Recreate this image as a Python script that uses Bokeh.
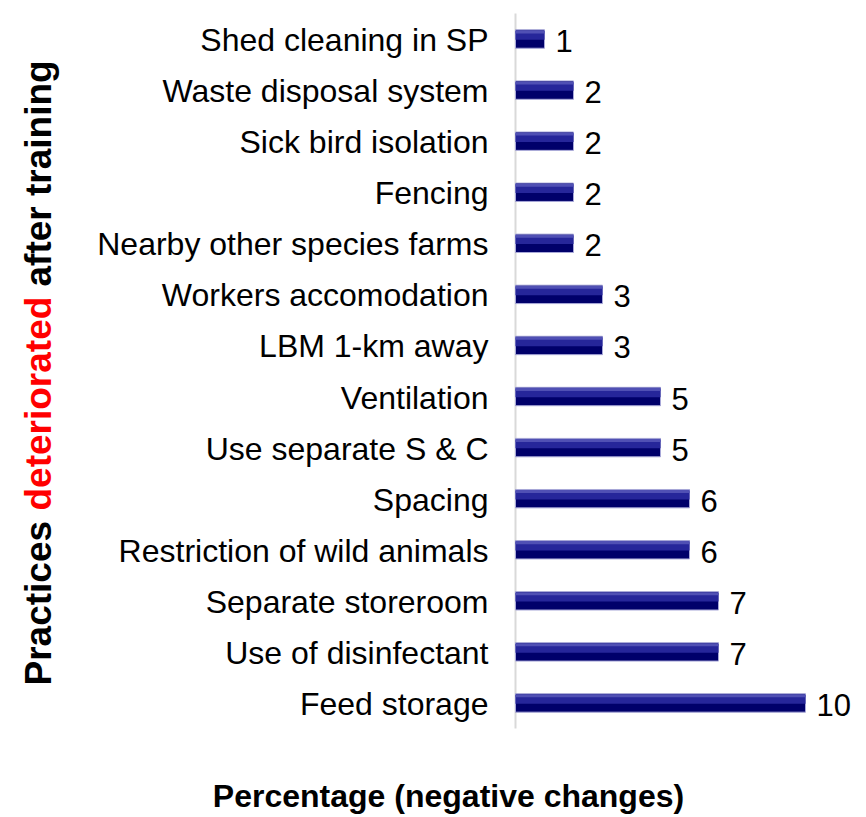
import math
from bokeh.plotting import figure
from bokeh.models import Range1d, Label, ColumnDataSource
from bokeh.core.properties import value
from bokeh.embed import file_html
from bokeh.resources import INLINE

practices = ["Shed cleaning in SP", "Waste disposal system", "Sick bird isolation",
             "Fencing", "Nearby other species farms", "Workers accomodation",
             "LBM 1-km away", "Ventilation", "Use separate S & C", "Spacing",
             "Restriction of wild animals", "Separate storeroom",
             "Use of disinfectant", "Feed storage"]
percent = [1, 2, 2, 2, 2, 3, 3, 5, 5, 6, 6, 7, 7, 10]
value_labels = [str(v) for v in percent]

# ---- layout constants (page pixels) ----
W, H = 858, 817
X0 = 515            # pixel of value 0 (axis line)
PX_PER_UNIT = 29.0  # horizontal scale
TOP, BOTTOM = 13, 728  # extent of category band
FONT = "Liberation Sans"

n = len(practices)
slot = (BOTTOM - TOP) / n
ypos = [n - 1 - i for i in range(n)]   # top category highest
y_top = (n - 1) + (TOP + slot / 2) / slot
y_bot = (n - 1) - (H - (TOP + slot / 2)) / slot

p = figure(width=W, height=H, output_backend="svg", toolbar_location=None,
           x_range=Range1d(-X0 / PX_PER_UNIT, (W - X0) / PX_PER_UNIT),
           y_range=Range1d(y_bot, y_top),
           min_border=0, min_border_left=0, min_border_right=0,
           min_border_top=0, min_border_bottom=0)
p.outline_line_color = None
p.grid.visible = False
p.axis.visible = False
p.background_fill_color = "white"
p.border_fill_color = "white"

src = ColumnDataSource(dict(y=ypos, val=percent, lab=value_labels, cat=practices))

# axis line
p.segment(x0=[0], y0=[-0.5], x1=[0], y1=[n - 0.5], line_color="#d9d9d9", line_width=2)

# bars with bevel-like shading
p.hbar(y="y", right="val", left=0, height=0.36, source=src,
       fill_color="#00006a", line_color="#a8a8d8", line_width=1)
p.hbar(y=[v + 0.07 for v in ypos], right=percent, left=0, height=0.17,
       fill_color="#26269a", line_color=None)
p.hbar(y=[v + 0.14 for v in ypos], right=percent, left=0, height=0.06,
       fill_color="#5050b4", line_color=None)

# category labels
p.text(x=0, y="y", text="cat", source=src, x_offset=-27, y_offset=1,
       text_font=value(FONT), text_font_size="32px", text_color="black",
       text_baseline="middle", text_align="right")

# value labels
p.text(x="val", y="y", text="lab", source=src, x_offset=11, y_offset=2,
       text_font=value(FONT), text_font_size="31px", text_color="black",
       text_baseline="middle", text_align="left")

# x title (screen units measured from canvas bottom-left, frame == canvas)
p.add_layout(Label(x=448, y=H - 795, x_units="screen", y_units="screen",
                   text="Percentage (negative changes)", text_font=FONT,
                   text_font_size="32px", text_font_style="bold",
                   text_align="center", text_baseline="middle",
                   text_color="black"))

# y title in three colored pieces, laid end to end (reading bottom -> top)
ytitle = [("Practices", "black", 685), ("deteriorated", "#ff0000", 510),
          ("after training", "black", 286)]
for txt, col, start in ytitle:
    p.add_layout(Label(x=38, y=H - start, x_units="screen", y_units="screen",
                       text=txt, angle=math.pi / 2, text_font=FONT,
                       text_font_size="37px", text_font_style="bold",
                       text_align="left", text_baseline="alphabetic",
                       text_color=col))

open("out.html", "w").write(file_html(p, INLINE))
